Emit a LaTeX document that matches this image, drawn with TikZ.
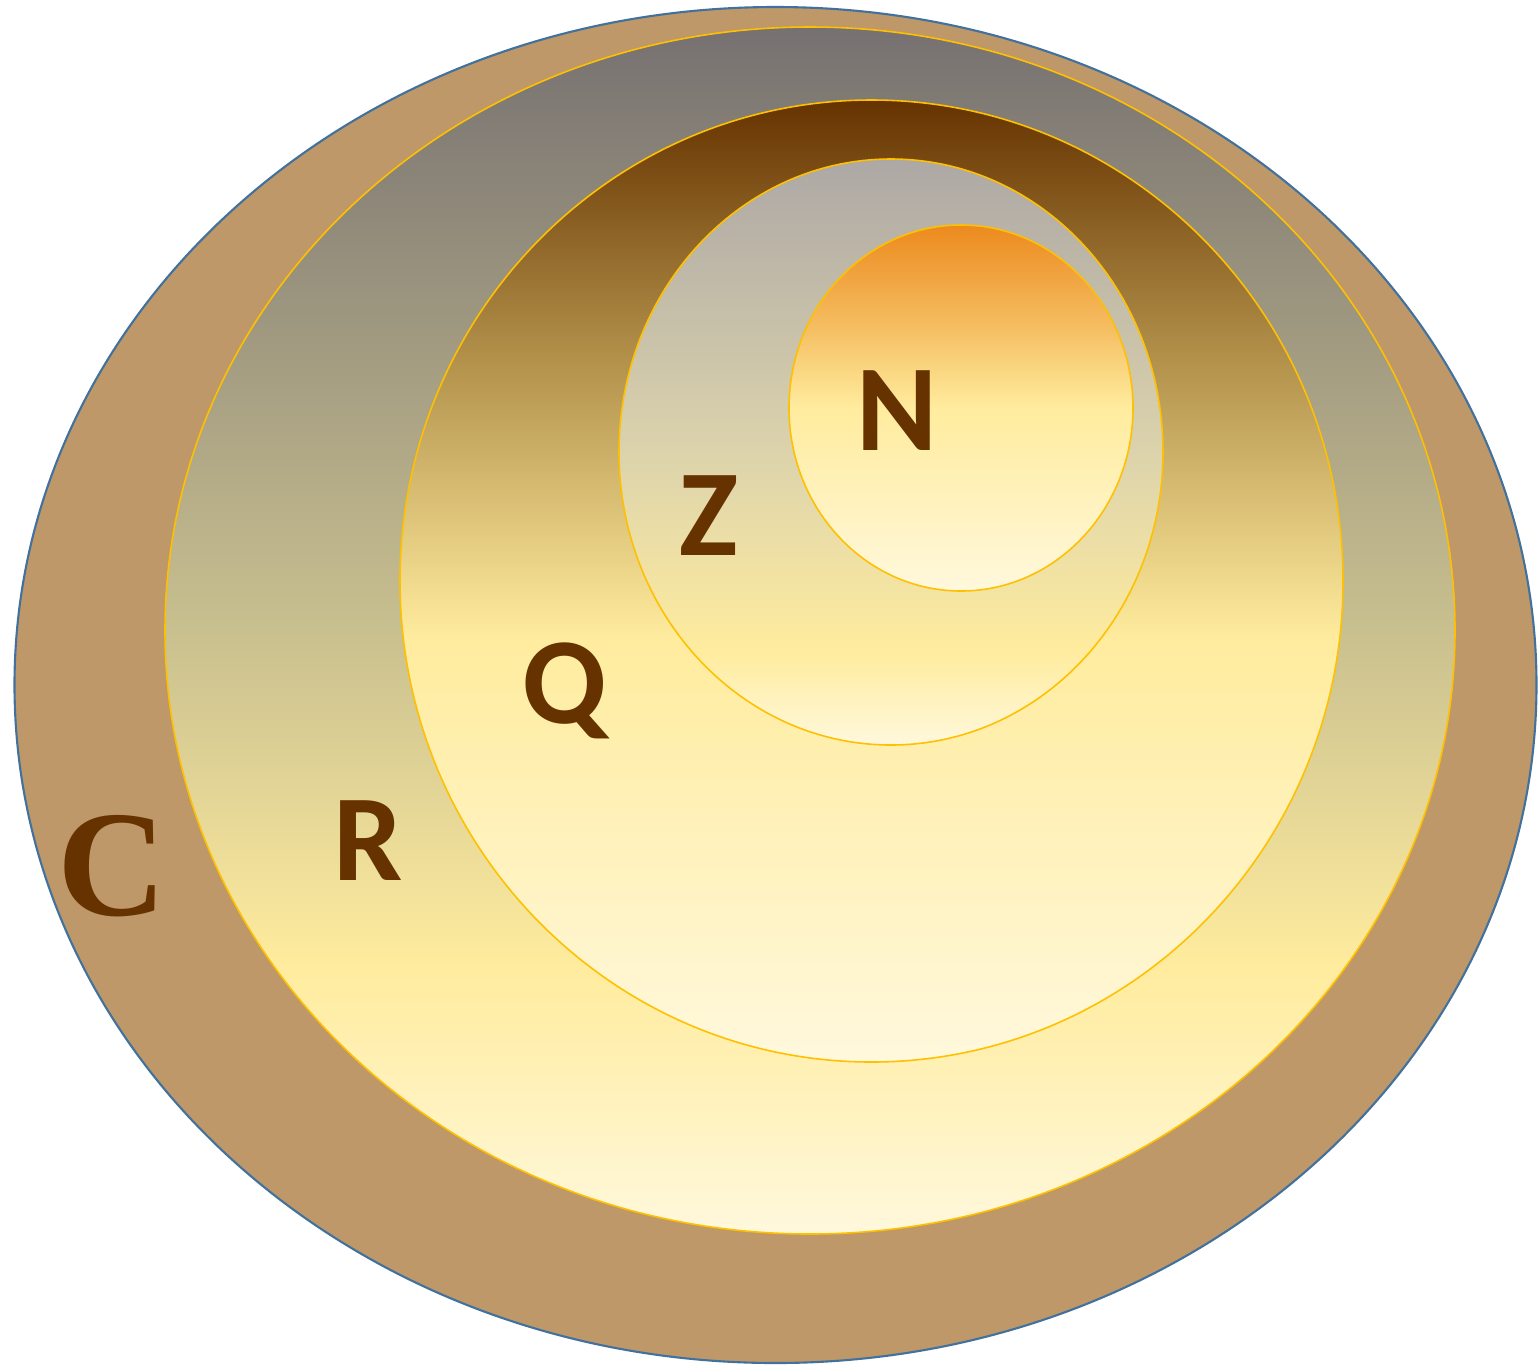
\documentclass[tikz,border=0pt]{standalone}
\usepackage{fontspec}
\setmainfont{Carlito}
\newfontfamily\capfont{Liberation Serif}
\definecolor{labelbrown}{HTML}{663300}
\definecolor{rimtan}{HTML}{BE9868}
\definecolor{rimblue}{HTML}{41719C}
\definecolor{ringgold}{HTML}{FFC000}
\definecolor{paleyellow}{HTML}{FFF8DC}
\definecolor{softyellow}{HTML}{FFEC9E}
\definecolor{rtop}{HTML}{767171}
\definecolor{rmid}{HTML}{C9C08F}
\definecolor{qtop}{HTML}{663300}
\definecolor{qmid}{HTML}{B08E48}
\definecolor{ztop}{HTML}{ADA8A5}
\definecolor{zmid}{HTML}{DCD3AC}
\definecolor{ntop}{HTML}{EC8A1E}
\definecolor{nmid}{HTML}{F5BE62}
% bounding box of a path is mapped on 25bp..75bp
\pgfdeclareverticalshading{realset}{100bp}{color(0bp)=(paleyellow); color(25bp)=(paleyellow); color(36bp)=(softyellow); color(50bp)=(rmid); color(75bp)=(rtop); color(100bp)=(rtop)}
\pgfdeclareverticalshading{ratset}{100bp}{color(0bp)=(paleyellow); color(25bp)=(paleyellow); color(47bp)=(softyellow); color(62bp)=(qmid); color(75bp)=(qtop); color(100bp)=(qtop)}
\pgfdeclareverticalshading{intset}{100bp}{color(0bp)=(paleyellow); color(25bp)=(paleyellow); color(33bp)=(softyellow); color(50bp)=(zmid); color(75bp)=(ztop); color(100bp)=(ztop)}
\pgfdeclareverticalshading{natset}{100bp}{color(0bp)=(paleyellow); color(25bp)=(paleyellow); color(50bp)=(softyellow); color(61bp)=(nmid); color(75bp)=(ntop); color(100bp)=(ntop)}
\begin{document}
\begin{tikzpicture}[x=0.01cm,y=-0.01cm,line join=round]
	\tikzset{setring/.style={draw=ringgold,line width=0.45pt},
		setname/.style={anchor=base,inner sep=0pt,text=labelbrown,font=\fontsize{35}{40}\selectfont\bfseries}}
	\useasboundingbox (0,0) rectangle (1539,1366);
	% complex numbers
	\draw[fill=rimtan,draw=rimblue,line width=0.6pt] (775.5,685) ellipse [x radius=761, y radius=678];
	% real, rational, integer, natural
	\shade[setring,shading=realset] (810,630.5) ellipse [x radius=645, y radius=603.5];
	\shade[setring,shading=ratset] (871.5,581) ellipse [x radius=471.5, y radius=481];
	\shade[setring,shading=intset] (891,452) ellipse [x radius=272, y radius=293];
	\shade[setring,shading=natset] (961,408) ellipse [x radius=172, y radius=183];
	% labels
	\node[setname] (nlabel) at (897,450) {N};
	\node[setname] (zlabel) at (709,555) {Z};
	\node[setname] (qlabel) at (565,723) {Q};
	\node[setname] (rlabel) at (368,880) {R};
	\node[setname,font=\fontsize{43}{48}\selectfont\capfont\bfseries] (clabel) at (112,915) {C};
\end{tikzpicture}
\end{document}
